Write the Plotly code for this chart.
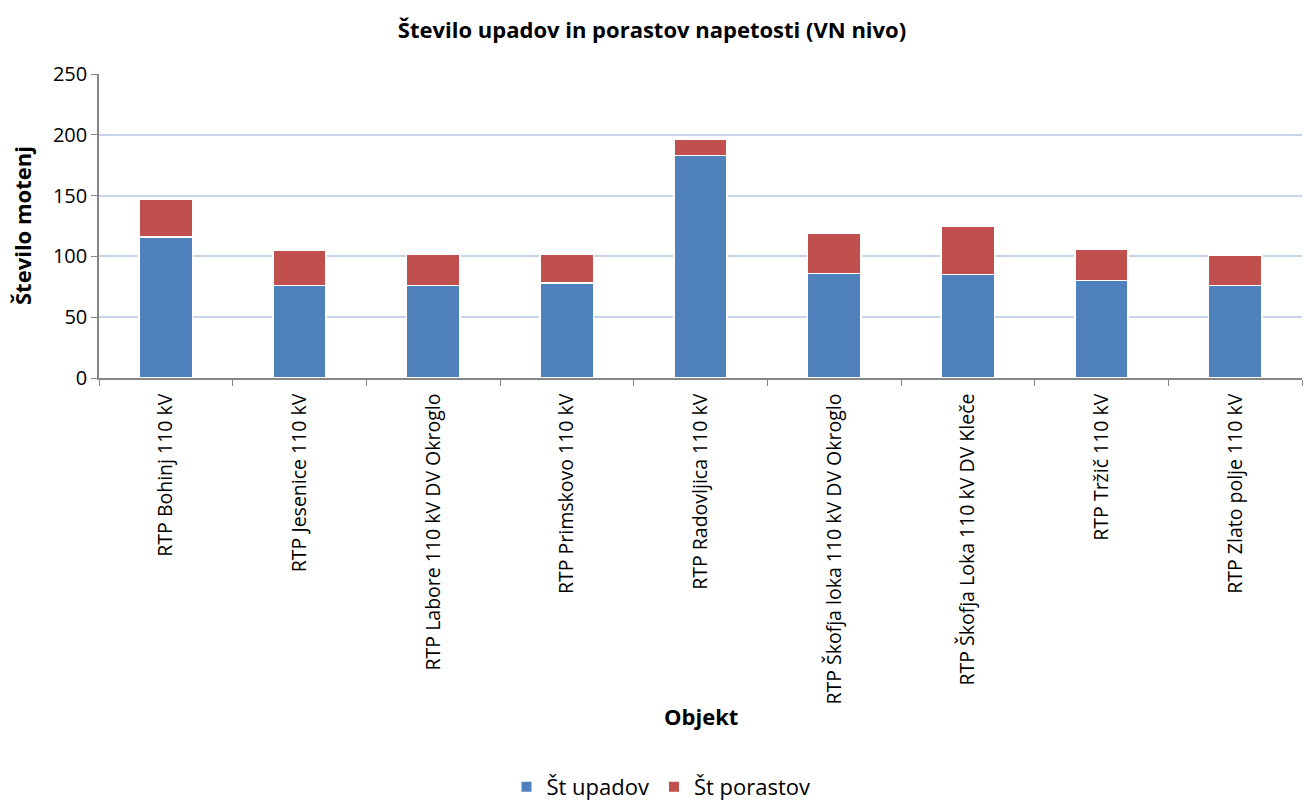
import plotly.graph_objects as go

# Categories and counts per substation
objekti = [
    "RTP Bohinj 110 kV",
    "RTP Jesenice 110 kV",
    "RTP Labore 110 kV DV Okroglo",
    "RTP Primskovo 110 kV",
    "RTP Radovljica 110 kV",
    "RTP Škofja loka 110 kV DV Okroglo",
    "RTP Škofja Loka 110 kV DV Kleče",
    "RTP Tržič 110 kV",
    "RTP Zlato polje 110 kV",
]
st_upadov = [116, 76, 76, 78, 183, 86, 85, 80, 76]
st_porastov = [31, 29, 26, 24, 13, 33, 40, 26, 25]
y_ticks = [0, 50, 100, 150, 200, 250]

FONT = "Open Sans"
BLUE = "#4F81BD"
RED = "#C0504D"

fig = go.Figure()
fig.add_trace(go.Bar(
    x=objekti, y=st_upadov, name="Št upadov",
    marker=dict(color=BLUE, line=dict(color="white", width=1.5)),
))
fig.add_trace(go.Bar(
    x=objekti, y=st_porastov, name="Št porastov",
    marker=dict(color=RED, line=dict(color="white", width=1.5)),
))

fig.update_layout(
    width=1304, height=801,
    barmode="stack", bargap=0.6,
    plot_bgcolor="white", paper_bgcolor="white",
    margin=dict(l=99, r=2, t=74, b=423, autoexpand=False),
    font=dict(family=FONT, color="black", size=19),
    title=dict(
        text="<b>Število upadov in porastov napetosti (VN nivo)</b>",
        x=0.5, xanchor="center", y=1 - 30 / 801, yanchor="middle",
        font=dict(family=FONT, size=22, color="black"),
    ),
    showlegend=True,
    legend=dict(
        orientation="h", x=(661 - 99) / 1203, xanchor="center",
        y=(378 - 787) / 304, yanchor="middle",
        font=dict(family=FONT, size=22), traceorder="normal",
        itemsizing="constant",
    ),
)

fig.update_yaxes(
    range=[0, 250], tickvals=y_ticks,
    showgrid=True, gridcolor="#C6D5EA", gridwidth=1.5,
    showline=True, linecolor="#868686", linewidth=1.5,
    ticks="outside", ticklen=6, tickcolor="#868686",
    tickfont=dict(family=FONT, size=20), zeroline=False,
)
fig.update_xaxes(
    showline=True, linecolor="#868686", linewidth=1.5,
    ticks="outside", ticklen=6, tickcolor="#868686",
    tickson="boundaries", tickangle=-90, ticklabelstandoff=6,
    tickfont=dict(family=FONT, size=19.5),
)

# Axis titles
fig.add_annotation(
    text="<b>Objekt</b>", xref="paper", yref="paper",
    x=0.5, y=(378 - 716) / 304, xanchor="center", yanchor="middle",
    showarrow=False, font=dict(family=FONT, size=22),
)
fig.add_annotation(
    text="<b>Število motenj</b>", xref="paper", yref="paper",
    x=(22 - 99) / 1203, y=0.5, xanchor="center", yanchor="middle",
    textangle=-90, showarrow=False, font=dict(family=FONT, size=22),
)

fig.write_html("out.html")
